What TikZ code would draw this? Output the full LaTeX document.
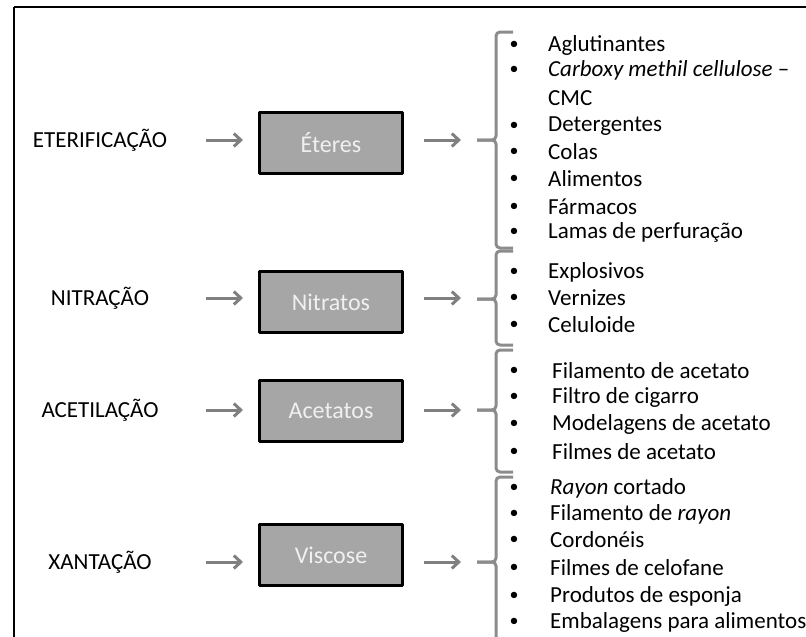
\documentclass[tikz,border=0pt]{standalone}
\usepackage{fontspec}
\setmainfont{Carlito}
\usetikzlibrary{arrows.meta,positioning,calc}
\definecolor{boxgray}{RGB}{166,166,166}
\definecolor{arrgray}{RGB}{128,128,128}
\definecolor{brcgray}{RGB}{140,140,140}
\tikzset{
proc/.style={draw=black,line width=2.6pt,fill=boxgray,minimum width=143pt,minimum height=61pt,inner sep=0pt,text=white!94!black,font=\fontsize{24}{28}\selectfont},
lab/.style={inner sep=0pt,font=\fontsize{23}{27}\selectfont},
itm/.style={anchor=west,inner sep=0pt,font=\fontsize{23}{27}\selectfont},
bul/.style={inner sep=0pt,font=\fontsize{18}{20}\selectfont},
arr/.style={-{Straight Barb[length=7pt,width=13pt]},arrgray,line width=3pt},
brc/.style={brcgray,line width=3pt,rounded corners=4pt}
}
\newcommand \mystep[8]
{
\node[lab] (#1-lab) at (100,#4) {#2};
\node[proc] (#1) at (331,#5) {#3};
\coordinate (#1-a) at (206,#4);
\coordinate (#1-b) at (243,#4);
\coordinate (#1-c) at (424,#4);
\coordinate (#1-d) at (461,#4);
\draw[arr] (#1-a)--(#1-b);
\draw[arr] (#1-c)--(#1-d);
\coordinate (#1-top) at (496,#6);
\coordinate (#1-tip) at (496,#7);
\coordinate (#1-bot) at (496,#8);
\draw[brc] ($(#1-top)+(17,0)$)--(#1-top)--(#1-tip)--($(#1-tip)+(-19,0)$);
\draw[brc] ($(#1-tip)+(-19,0)$)--(#1-tip)--(#1-bot)--($(#1-bot)+(17,0)$);
}
\newcommand \myitem[4]
{
\node[bul] (#1-dot) at (514,#3) {\textbullet};
\node[itm] (#1) at (#2,#3) {#4};
}

\begin{document}
\begin{tikzpicture}[x=1pt,y=-1pt,line join=round]
\useasboundingbox (0,0) rectangle (806,637);
\coordinate (c0) at (14,7);
\draw[line width=2.4pt] (c0)--(806,7);
\draw[line width=2.4pt] (c0)--(14,637);
\mystep{ete}{ETERIFICAÇÃO}{Éteres}{140}{143}{32}{140}{248}
\mystep{nit}{NITRAÇÃO}{Nitratos}{298}{302}{251}{299}{345}
\mystep{ace}{ACETILAÇÃO}{Acetatos}{410}{411}{350}{410}{472}
\mystep{vis}{XANTAÇÃO}{Viscose}{562}{555}{477}{562}{660}
\myitem{e1}{548}{45}{Aglutinantes}
\myitem{e2}{548}{70}{\textit{Carboxy methil cellulose} –}
\node[itm] (e2b) at (548,98) {CMC};
\myitem{e3}{548}{126}{Detergentes}
\myitem{e4}{548}{152}{Colas}
\myitem{e5}{548}{179}{Alimentos}
\myitem{e6}{548}{207}{Fármacos}
\myitem{e7}{548}{232}{Lamas de perfuração}
\myitem{n1}{548}{272}{Explosivos}
\myitem{n2}{548}{298}{Vernizes}
\myitem{n3}{548}{325}{Celuloide}
\myitem{a1}{552}{371}{Filamento de acetato}
\myitem{a2}{552}{397}{Filtro de cigarro}
\myitem{a3}{552}{424}{Modelagens de acetato}
\myitem{a4}{552}{452}{Filmes de acetato}
\myitem{v1}{550}{488}{\textit{Rayon} cortado}
\myitem{v2}{550}{514}{Filamento de \textit{rayon}}
\myitem{v3}{550}{540}{Cordonéis}
\myitem{v4}{550}{568}{Filmes de celofane}
\myitem{v5}{550}{596}{Produtos de esponja}
\myitem{v6}{550}{622}{Embalagens para alimentos}
\end{tikzpicture}
\end{document}
